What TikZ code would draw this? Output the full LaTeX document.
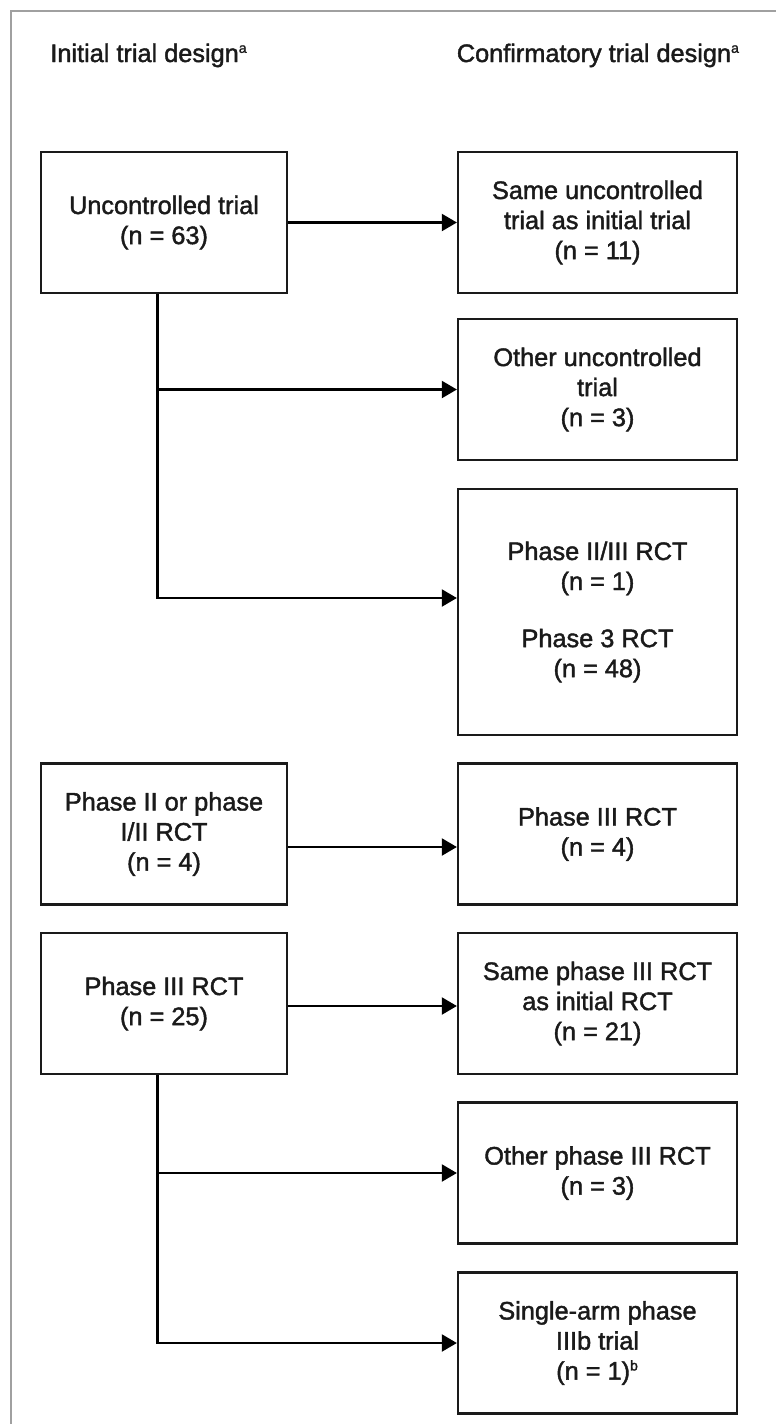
\documentclass[tikz,border=0pt]{standalone}
\usepackage{fontspec}
\setmainfont{Liberation Sans}[FakeBold=1.6]
\usepackage{xcolor}
\usepackage{tikz}
\usetikzlibrary{shapes, arrows.meta, positioning}
\definecolor{inkgray}{HTML}{1A1A1A}
\definecolor{framegray}{HTML}{A0A0A0}
\newcommand{\fnmark}[1]{\textsuperscript{\fontsize{8}{8}\selectfont #1}}

\begin{document}
\begin{tikzpicture}
  [
    font=\fontsize{14.4}{17.1}\selectfont,
    text=inkgray,
    Box/.style={rectangle, draw=inkgray, line width=1.3pt, align=center, inner sep=0pt, minimum height=2.82cm},
    Initial/.style={Box, minimum width=4.92cm},
    Confirm/.style={Box, minimum width=5.58cm},
    Head/.style={anchor=base west, inner sep=0pt},
    Link/.style={draw=black, line width=1.2pt, -{Triangle[length=0.3cm, width=0.34cm]}}
  ]
  \useasboundingbox (0, 0) rectangle (15.52, -28.48);
  % Frame
  \draw[framegray, line width=0.8pt] (0.22, -28.48) -- (0.22, -0.22) -- (15.52, -0.22);
  % Headings
  \node[Head] (hinit) at(1.0, -1.24) {Initial trial design\fnmark{a}};
  \node[Head] (hconf) at(9.13, -1.24) {Confirmatory trial design\fnmark{a}};
  % Nodes
  \node[Initial] (unctrl) at(3.28, -4.45) {Uncontrolled trial\\(n = 63)};
  \node[Confirm] (sameunc) at(11.95, -4.45) {Same uncontrolled\\trial as initial trial\\(n = 11)};
  \node[Confirm] (othunc) at(11.95, -7.79) {Other uncontrolled\\trial\\(n = 3)};
  \node[Confirm, minimum height=4.92cm] (rctmix) at(11.95, -12.24)
    {Phase II/III RCT\\(n = 1)\\[0.54cm]Phase 3 RCT\\(n = 48)};
  \node[Initial] (phtwo) at(3.28, -16.68) {Phase II or phase\\I/II RCT\\(n = 4)};
  \node[Confirm] (phthree) at(11.95, -16.68) {Phase III RCT\\(n = 4)};
  \node[Initial] (rctinit) at(3.28, -20.07) {Phase III RCT\\(n = 25)};
  \node[Confirm] (samerct) at(11.95, -20.07) {Same phase III RCT\\as initial RCT\\(n = 21)};
  \node[Confirm] (othrct) at(11.95, -23.46) {Other phase III RCT\\(n = 3)};
  \node[Confirm] (single) at(11.95, -26.86) {Single-arm phase\\IIIb trial\\(n = 1)\fnmark{b}};
  % Lines
  \path [Link] (unctrl) -- (sameunc);
  \path [Link] ([xshift=-0.13cm]unctrl.south) |- (othunc.west);
  \path [Link] ([xshift=-0.13cm]unctrl.south) |- ([yshift=0.28cm]rctmix.west);
  \path [Link] ([yshift=-0.26cm]phtwo.east) -- ([yshift=-0.26cm]phthree.west);
  \path [Link] ([yshift=-0.05cm]rctinit.east) -- ([yshift=-0.05cm]samerct.west);
  \path [Link] ([xshift=-0.13cm]rctinit.south) |- (othrct.west);
  \path [Link] ([xshift=-0.13cm]rctinit.south) |- (single.west);
\end{tikzpicture}
\end{document}
